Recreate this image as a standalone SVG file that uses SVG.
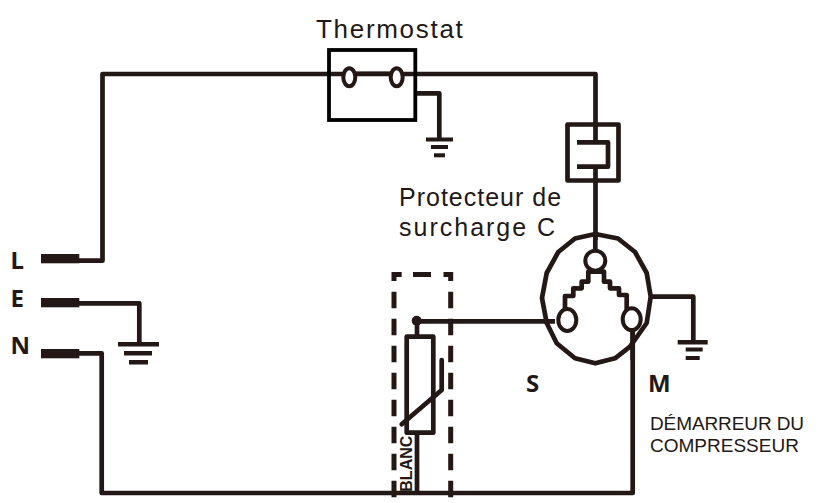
<svg xmlns="http://www.w3.org/2000/svg" width="832" height="503" viewBox="0 0 832 503">
<style>
.w{fill:none;stroke:#231815;stroke-width:4.700;stroke-linejoin:round}
.k{fill:none;stroke:#231815;stroke-width:5;stroke-linejoin:miter}
.b{fill:#231815;stroke:none}
.o{fill:#fff;stroke:#231815;stroke-width:4}
.t{font-family:"Liberation Sans",Arial,sans-serif;fill:#231815}
.h{font-family:"Noto Sans",sans-serif;font-weight:700;fill:#231815}
</style>
<rect width="832" height="503" fill="#fff"/>
<g id="connectors">
<path class="w" d="M79 260.700H102.500V74H595.500V143M595.500 167V240"/>
<path class="w" d="M79 303.300H139.300V343"/>
<path class="w" d="M79 353.300H101.700V493H632.700V328"/>
<path class="w" d="M417 321.300H555"/>
<path class="w" d="M417 321V337M417 432V493"/>
<path class="w" d="M415 93.300H439.300V138"/>
<path class="w" d="M650 296.700H693.300V342"/>
</g>
<g id="thermostat">
<rect x="329" y="50" width="86.300" height="70" fill="none" stroke="#000" stroke-width="3.800"/>
<path class="w" d="M356 73H390" style="stroke-width:3"/>
<ellipse class="o" cx="349.300" cy="77.300" rx="6" ry="9"/>
<ellipse class="o" cx="396.700" cy="77.300" rx="6" ry="9"/>
<text class="t" x="316" y="38" font-size="26" letter-spacing="1.700">Thermostat</text>
</g>
<g id="ground-thermostat">
<rect class="b" x="426" y="137.500" width="27" height="4"/>
<rect class="b" x="431" y="145" width="17" height="4"/>
<rect class="b" x="434" y="153.300" width="11" height="4"/>
</g>
<g id="protector">
<rect class="w" x="567.500" y="124.500" width="51" height="56"/>
<path class="w" d="M577 142.300H608V166.700H577"/>
<text class="t" x="399" y="206" font-size="25" letter-spacing="1">Protecteur de</text>
<text class="t" x="399" y="236" font-size="25" letter-spacing="2">surcharge C</text>
</g>
<g id="compressor">
<polygon class="w" points="595.300,234 618,238.500 635,252 646.700,273 650.700,296.700 646.700,323 630,346.700 615,358.300 595.300,363.300 575,358.300 556.700,343.300 546.700,323 542,298 546.700,273 558.300,252 575,238.500"/>
<path class="w" d="M565 310V296H573.300V288.300H581.700V281.700H588.300V271.700H604V281.700H610V288.300H619V295H626.700V310"/>
<line class="w" x1="595.300" y1="234" x2="595.300" y2="252"/>
<circle class="o" cx="595.300" cy="260.700" r="10"/>
<ellipse class="o" cx="567.300" cy="320" rx="9" ry="11"/>
<ellipse class="o" cx="631.700" cy="319.300" rx="9" ry="11"/>
<line class="w" x1="632.700" y1="328" x2="632.700" y2="360"/>
<text class="h" x="526" y="391.500" font-size="24">S</text>
<text class="h" x="648" y="391.500" font-size="24">M</text>
<text class="t" x="650" y="429.500" font-size="19" letter-spacing="-0.100">DÉMARREUR DU</text>
<text class="t" x="650" y="452" font-size="19">COMPRESSEUR</text>
</g>
<g id="ground-compressor">
<rect class="b" x="677.700" y="340" width="30" height="4.500"/>
<rect class="b" x="685.700" y="347.500" width="17" height="4"/>
<rect class="b" x="685.700" y="356" width="14" height="4"/>
</g>
<g id="ptc">
<path class="k" d="M394 281V274.500H401.700M413 274.500H431M443.500 274.500H450.700V281"/>
<path class="k" d="M394 291.700V503M450.700 291.700V503" stroke-dasharray="16.500 10.500"/>
<circle class="b" cx="416.700" cy="320.700" r="5"/>
<rect class="w" x="406.700" y="336.700" width="26.600" height="96"/>
<path class="w" d="M401.700 424.300L441.700 390V360" stroke-linecap="round"/>
<text class="t" transform="translate(412 491.700) rotate(-90)" font-size="16" font-weight="700">BLANC</text>
</g>
<g id="plug-L">
<rect class="b" x="41" y="254" width="38.300" height="9.300"/>
<text class="h" x="10.500" y="269" font-size="24">L</text>
</g>
<g id="plug-E">
<rect class="b" x="41" y="298" width="38.300" height="9.300"/>
<text class="h" x="10.500" y="307" font-size="24">E</text>
</g>
<g id="plug-N">
<rect class="b" x="41" y="349" width="38.300" height="9.300"/>
<text class="h" x="10.500" y="354" font-size="24">N</text>
</g>
<g id="ground-E">
<rect class="b" x="118" y="342" width="41" height="4.500"/>
<rect class="b" x="124" y="351" width="28" height="4.500"/>
<rect class="b" x="129" y="360" width="19" height="4.500"/>
</g>
</svg>
